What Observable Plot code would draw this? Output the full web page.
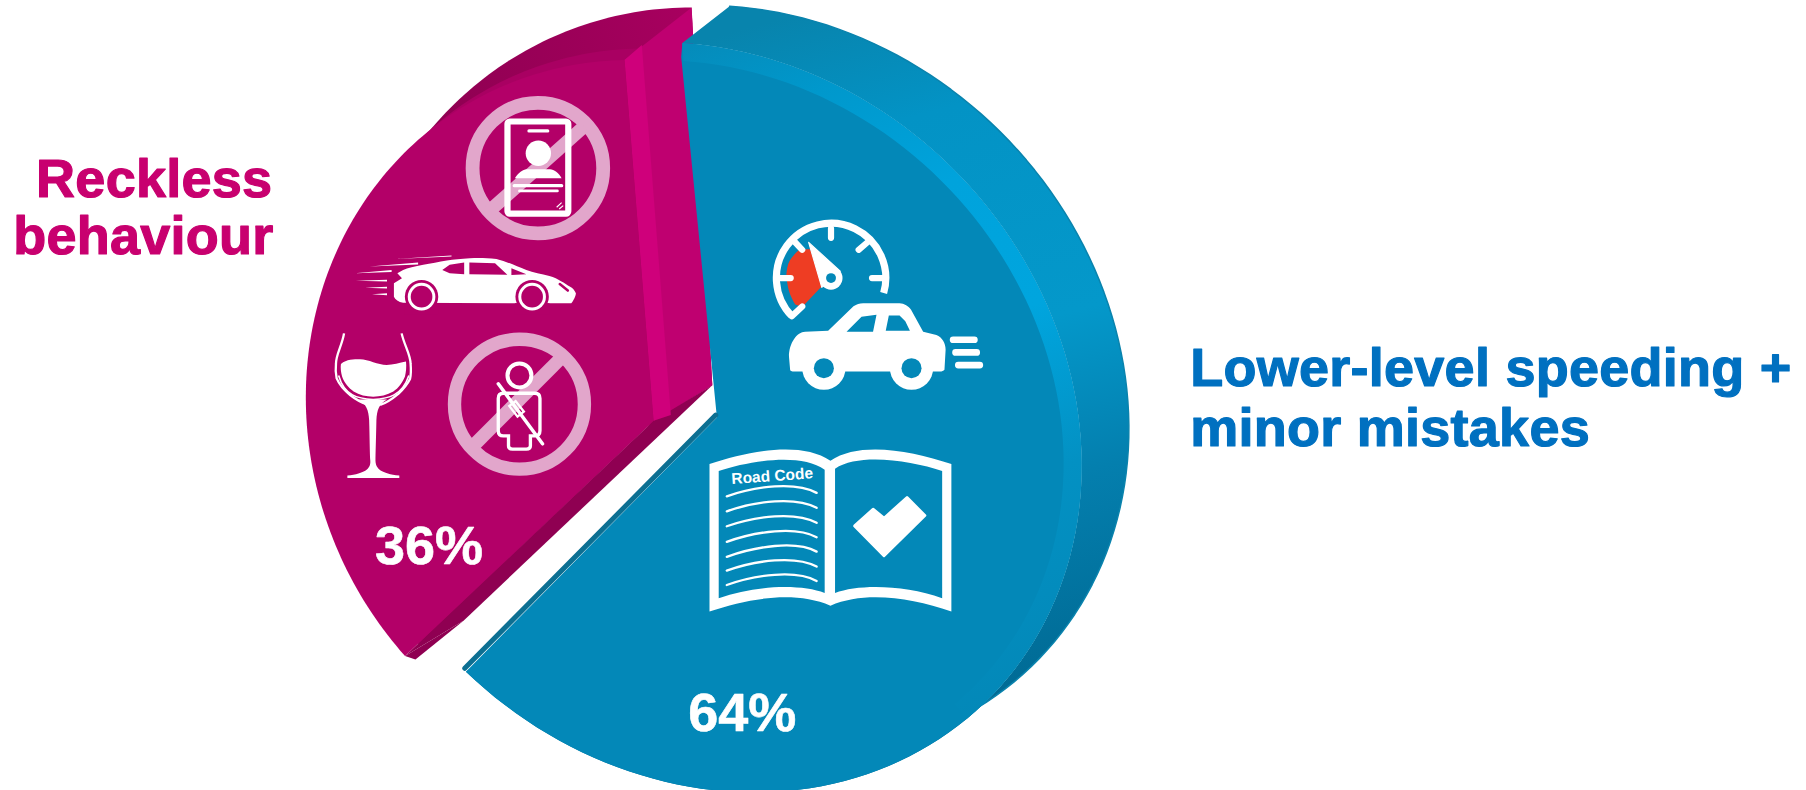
<!DOCTYPE html>
<html><head><meta charset="utf-8">
<script src="https://cdn.jsdelivr.net/npm/d3@7"></script>
<script src="https://cdn.jsdelivr.net/npm/@observablehq/plot@0.6"></script>
<style>
html,body{margin:0;padding:0;background:#fff;overflow:hidden}
svg{display:block}
.lab text{letter-spacing:.25px}
</style></head><body><div id="c"></div>
<script>
// Data
const categories = ["Reckless behaviour", "Lower-level speeding + minor mistakes"];
const shares = [36, 64];
const shareLabels = ["36%", "64%"];
const recklessLines = ["Reckless", "behaviour"];
const recklessX = [236, 237], recklessY = [171, 220];
const lowerLines = ["Lower-level speeding +", "minor mistakes"];
const lowerX = [1033, 1033], lowerY = [335, 387];
const shareX = [372, 644], shareY = [489, 634];

// Layout: the plot's scales work in a 1568x686 frame
const k = 1806 / 1568;
const magenta = {c:[567,365], a:319, b:296, rot:60, start:77.5, pad:0, lowBack:[51,-31], mid:[12,-10]};
const magentaBack = {c:[600,301], a:295, b:295, rot:0, start:140.4, pad:0};
const blue    = {c:[613,362], a:346, b:304, rot:45, start:-135, pad:6.8, apex:[622,362], back:[41,-32]};
const rad = d => d * Math.PI / 180;
function pt(g, t, scale=1, off=[0,0]) {
  const A = g.a*scale*Math.cos(rad(t)), B = g.b*scale*Math.sin(rad(t)), r = rad(g.rot);
  return [g.c[0]+off[0]+A*Math.cos(r)-B*Math.sin(r), g.c[1]+off[1]+A*Math.sin(r)+B*Math.cos(r)];
}
function arc(g, share, scale=1, off=[0,0]) {
  const span = share/100*360 - g.pad, n = 120, out = [];
  for (let i=0;i<=n;i++) out.push(pt(g, g.start + span*i/n, scale, off));
  return out;
}
const poly = (pts, o) => Plot.line(pts, {x:d=>d[0], y:d=>d[1], stroke:"none", curve:"linear", ...o});
const shift = (p, o) => [p[0]+o[0], p[1]+o[1]];

// slices derived from the shares
const mFront = arc(magenta, shares[0]);
const mBack  = arc(magentaBack, shares[0]);
const mMid   = arc(magenta, shares[0], 1, magenta.mid);
const mApex  = magenta.c;
const mApexB = shift(mApex, magenta.lowBack);
const mStart = mFront[0], mEnd = mFront[mFront.length-1];
const bFront = arc(blue, shares[1]);
const bBack  = arc(blue, shares[1], 1, blue.back);
const bInner = arc(blue, shares[1], 0.952);
const bApex  = blue.apex;
const bS = bFront[0], bE = bFront[bFront.length-1];
const ringEnd = 76;

// defs
function defs() {
  const g = document.createElementNS("http://www.w3.org/2000/svg","g");
  g.innerHTML = `<defs>
  <linearGradient id="bSide" gradientUnits="userSpaceOnUse" x1="${700*k}" y1="${10*k}" x2="${860*k}" y2="${610*k}">
   <stop offset="0" stop-color="#0884ad"/><stop offset=".18" stop-color="#0393c5"/><stop offset=".5" stop-color="#0498ca"/>
   <stop offset=".72" stop-color="#047fae"/><stop offset="1" stop-color="#006a94"/></linearGradient>
  <linearGradient id="bRing" gradientUnits="userSpaceOnUse" x1="${600*k}" y1="${40*k}" x2="${830*k}" y2="${630*k}">
   <stop offset="0" stop-color="#058cbb"/><stop offset=".12" stop-color="#0098cc"/><stop offset=".3" stop-color="#00a3dc"/><stop offset=".5" stop-color="#00a5de"/>
   <stop offset=".72" stop-color="#0391c3"/><stop offset="1" stop-color="#0388b8"/></linearGradient>
  <linearGradient id="mTop" gradientUnits="userSpaceOnUse" x1="${600*k}" y1="${5*k}" x2="${380*k}" y2="${100*k}">
   <stop offset="0" stop-color="#a8005f"/><stop offset=".4" stop-color="#9d0059"/><stop offset="1" stop-color="#8f0052"/></linearGradient>
  </defs>`;
  return g;
}

// Icons: local drawings placed through the scales
const W = "#fff", P = "#e2a6cb", MF = "#b30068", BF = "#0388b8", R = "#ee3d23";
const bookLeft  = [-32,-19,-6,7.5,20.5,32.5,45];
const bookRight = [-35,-22,-9,3.5,16,29,41.5];
const icons = {
 noId: `<circle r="56.7" fill="none" stroke="${P}" stroke-width="12"/>
  <path d="M-42 37L40-36" stroke="${P}" stroke-width="11.5"/>
  <rect x="-26.4" y="-40.5" width="52.8" height="80" rx="2" fill="none" stroke="${W}" stroke-width="5.4"/>
  <path d="M-7.7-32.3H8.5" stroke="${W}" stroke-width="2.9" stroke-linecap="round"/>
  <circle cx=".4" cy="-12.9" r="11" fill="${W}"/>
  <path d="M-20 8.8C-17 4-13 1-9.8 1L10.6 1C14 1 18 4 20.6 8.8Z" fill="${W}"/>
  <path d="M-20.5 15.2H20.6" stroke="${W}" stroke-width="2.9" stroke-linecap="round"/>
  <path d="M-16 19.8H17" stroke="${W}" stroke-width="2.3" stroke-linecap="round"/>
  <path d="M16.3 34L20.6 30M18.5 35.5L22 32.5" stroke="${W}" stroke-width="1"/>`,
 fastCar: `<path d="M-75-7.7L-71-3.3L-78 1L-78 12.6C-77 15-74 17-70 18L76 18.4C78 16 80 12 80 9.7C79 7 77 5 75 4C70 1 65-3 57-5.4C50-7 43-8 37-10.5C28-14 20-18 11-20C2-21-5-21-12-20.7C-20-20-26-20-32-18.7C-39-17.5-46-16-52.5-15C-60-13.5-66-12-70-10.6Z" fill="${W}"/>
  <circle cx="-54" cy="12.6" r="14.5" fill="${MF}"/><circle cx="42" cy="12.6" r="14.5" fill="${MF}"/>
  <rect x="-69" y="18.3" width="30" height="10" fill="${MF}"/><rect x="27" y="18.3" width="30" height="10" fill="${MF}"/>
  <circle cx="-54" cy="12.6" r="12" fill="${W}"/><circle cx="42" cy="12.6" r="12" fill="${W}"/>
  <circle cx="-54" cy="12.6" r="9.4" fill="${MF}"/><circle cx="42" cy="12.6" r="9.4" fill="${MF}"/>
  <path d="M-36-10.5L-29.6-15L-17-17L-17-6.8L-29.6-7.7ZM-12.5-17L9.8-16.4L20.5-6.5L-12.5-6.8ZM24-12L37-6.8L24-6.2Z" fill="${MF}"/>
  <path d="M66 1.6L73 7.3" stroke="${MF}" stroke-width="2.2" stroke-linecap="round"/>
  <path d="M-77-20L-28-23.2L-28-22.2ZM-99-13.5L-57-17L-57-15.4ZM-112-7.7L-80-10.5L-80-8.9ZM-111-1.3L-84-2.1L-84-.5ZM-103 4.8L-84 4L-84 5.6ZM-97 10.5L-84 9.7L-84 11.3Z" fill="${W}"/>`,
 wine: `<path d="M-26.3-60.5C-28-50-33.5-42-33.3-34C-34-28-33.5-25-32.7-21.4C-30-15-26-11-21-7C-16-3-10 0-5 1.7M23.7-60.5C26-50 31.5-42 31.5-34C32-28 32-25 31-21C28-15 25-12 20.8-8C16-4 10 0 5 1.7" fill="none" stroke="${W}" stroke-width="2"/>
  <path d="M-29-34C-24-38-18-38-12.4-38C-5-38 3-33 10.7-33C16-33 22-35 27.5-36C28-31 27.5-27 26.6-23C24-17 21-13 16.5-10C11-7 5-5.5-1-5.5C-7-5.5-13-7-18-10C-22-13-26-17-28-23C-29-27-29.5-31-29-34Z" fill="${W}"/>
  <path d="M-31-24C-26-6-14-4-1-3C12-4 24-6 30-24" fill="none" stroke="${W}" stroke-width="1.4"/>
  <path d="M-14-3C-7 1-5 6-4.5 15C-4 30-4 45-3.5 50C-3 57-8 61-23.4 63L-23.4 65L21.7 65L21.7 63C6 61 1.2 57 1 50C1 45 1.5 30 1.8 15C2.3 6 4 1 11-3Z" fill="${W}"/>`,
 noBelt: `<circle r="56.4" fill="none" stroke="${P}" stroke-width="11.6"/>
  <path d="M-42 38L36-40" stroke="${P}" stroke-width="11.6"/>
  <circle cy="-25" r="10.4" fill="none" stroke="${W}" stroke-width="3.5"/>
  <path d="M-18.4-5Q-18.4-9.5-14-9.5L13.4-9.5Q17.8-9.5 17.8-5L17.8 23Q17.8 27.5 13 27.5L9.5 27.5L9.5 36Q9.5 39 6 39L-6 39Q-9.5 39-9.5 36L-9.5 27.5L-14 27.5Q-18.4 27.5-18.4 23Z" fill="none" stroke="${W}" stroke-width="2.9"/>
  <path d="M-18.4-17.7L20 34.4" stroke="${W}" stroke-width="3" stroke-linecap="round"/>
  <rect x="-5.8" y="-3.5" width="11.6" height="7" transform="translate(-2.5,4) rotate(52)" fill="none" stroke="${W}" stroke-width="2"/>`,
 gauge: `<path d="M-27-25C-33-20-37-15-38-9C-39-3-39 0-38 4C-37 12-34 18-31 23L-25 25L-8 7L-18-25Z" fill="${R}"/>
  <path d="M-34 33A47.5 47.5 0 1 1 45.7 13" fill="none" stroke="${W}" stroke-width="6.2"/>
  <path d="M0-43V-35M32.7-32L24-24.6M46 0H35.6M-32-32L-25-24.6M-45 0H-35M-34 33L-25 24.6" stroke="${W}" stroke-width="5.4" stroke-linecap="round"/>
  <path d="M-19.4-31L8-6L-8 8Z" fill="${W}" stroke="${W}" stroke-width="1" stroke-linejoin="round"/><circle r="10" fill="${W}"/><circle r="4.3" fill="${BF}"/>`,
 car: `<path d="M-65 9.5C-65-2-58-12-51-12L-31-12.7L-9-34C-6-36-4-36.7-.6-36.7L31-36.7C35-36.7 39-34 41-31L51.5-12L63-9C68-7 71-2 71 3.8L70 21C69 22 68 22.6 66 22.6L-60 22.6C-63 22.6-64 22-64 21Z" fill="${W}"/>
  <path d="M-15-12L-2-25L11-26.6L8-12ZM19-12.7L21.7-26L31-26L36-21L40-12.7Z" fill="${BF}"/>
  <circle cx="-34.7" cy="19.7" r="18.8" fill="${W}"/><circle cx="41.4" cy="19.7" r="18.8" fill="${W}"/>
  <circle cx="-34.7" cy="19.7" r="8.7" fill="${BF}"/><circle cx="41.4" cy="19.7" r="8.7" fill="${BF}"/>
  <path d="M77.5-5H96M79.6 6H98M82 17H100.7" stroke="${W}" stroke-width="5.8" stroke-linecap="round"/>`,
 book: `<path fill-rule="evenodd" fill="${W}" d="M-105-60C-70-72-25-80 0-63C25-80 70-72 105-60L105 68C70 56 30 50 0 63C-30 50-70 56-105 68ZM-97-54C-70-63-25-70-5-55L-5 52C-25 44-65 45-97 56.5ZM97-54C70-63 25-70 4-56L4 52C25 44 65 45 97 56.5Z"/>
  ${bookLeft.map((y,i)=>`<path d="M-90 ${y}C-65 ${y-9}-30 ${bookRight[i]-10}-12 ${bookRight[i]}" fill="none" stroke="${W}" stroke-width="2" stroke-linecap="round"/>`).join("")}
  <path d="M21-6.3L37-20.8L46.5-13L66.5-31L82-15.3L46.5 19.6Z" fill="${W}" stroke="${W}" stroke-width="2.5" stroke-linejoin="round"/>`
};
const iconNames = ["noId","fastCar","wine","noBelt","gauge","car","book"];
const iconX = [467,420,325,451,721.5,750,721];
const iconY = [146,245,350,351,241.5,300,463];
const iconMark = (name,x,y) => (index, scales) => {
  const g = document.createElementNS("http://www.w3.org/2000/svg","g");
  g.setAttribute("transform",`translate(${scales.x(x)},${scales.y(y)}) scale(${k})`);
  g.innerHTML = icons[name];
  return g;
};
const labelStyle = {text:d=>d, fontSize:54, fontWeight:700, fontFamily:"Liberation Sans", lineAnchor:"bottom", strokeWidth:1.2, className:"lab"};

const chart = Plot.plot({
  width:1806, height:790, margin:0, marginTop:0, marginBottom:0, marginLeft:0, marginRight:0,
  x:{domain:[0,1568], range:[0,1806], axis:null},
  y:{domain:[0,686], range:[0,790], axis:null},
  marks:[
    defs,
    // Reckless slice
    poly([mApexB, ...mBack], {fill:"url(#mTop)"}),
    poly([mApex, ...mMid], {fill:"#a90062"}),
    poly([mStart, shift(mStart,magenta.lowBack), mApexB, mApex], {fill:"#8f0052"}),
    poly([mStart, [mStart[0]+9,mStart[1]+3], shift(mStart,magenta.lowBack)], {fill:"#8f0052"}),
    poly([mEnd, mBack[mBack.length-1], mApexB, mApex], {fill:"#bf0070"}),
    poly([mEnd, shift(mEnd,[15,-13]), shift(mApex,[15,-5]), mApex], {fill:"#cf007b"}),
    poly([mApex, ...mFront], {fill:MF}),
    // Lower-level slice
    poly([...bBack, ...bFront.slice().reverse()], {fill:"url(#bSide)"}),
    poly(bBack.slice(0,90), {stroke:"#0a83ad", strokeWidth:1.5}),
    poly([bApex, shift(bS,[-1,12]), ...bFront], {fill:BF}),
    poly([...bFront.slice(0,ringEnd), ...bInner.slice(0,ringEnd).reverse()], {fill:"url(#bRing)"}),
    poly([shift(bE,[-1,-3]), shift(bApex,[-1,-2])], {stroke:"#0c6f92", strokeWidth:5}),
    // icons
    ...iconNames.map((n,i)=>iconMark(n,iconX[i],iconY[i])),
    Plot.text(["Road Code"],{x:[670],y:[413],text:d=>d,rotate:-4,fill:W,fontSize:15.5,fontWeight:700,fontFamily:"Liberation Sans"}),
    // share labels
    Plot.text(shareLabels,{x:shareX,y:shareY,text:d=>d,fill:W,fontSize:54,fontWeight:700,fontFamily:"Liberation Sans",lineAnchor:"bottom",stroke:W,strokeWidth:.6,textAnchor:"middle"}),
    // category labels
    Plot.text(recklessLines,{...labelStyle,x:recklessX,y:recklessY,fill:"#c8006f",stroke:"#c8006f",textAnchor:"end"}),
    Plot.text(lowerLines,{...labelStyle,x:lowerX,y:lowerY,fill:"#0070c0",stroke:"#0070c0",textAnchor:"start"})
  ]
});
document.getElementById("c").appendChild(chart);
</script></body></html>
